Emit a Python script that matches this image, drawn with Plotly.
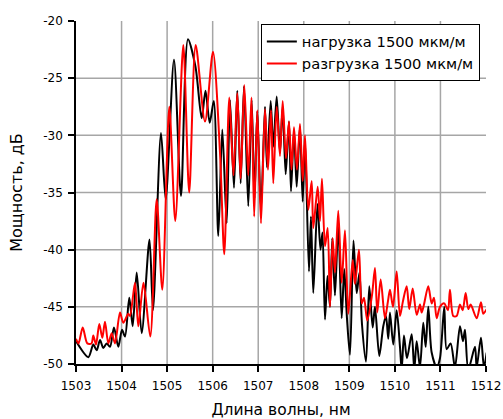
import plotly.graph_objects as go

# pixel-read data converted to wavelength (nm) and power (dB)
def px2nm(p):
    return 1503 + (p - 76) / 45.56

load_px = [76, 88.3, 93.3, 96.7, 100, 103.3, 106.7, 110, 114, 118.3, 122, 125, 129.3, 132.7, 136.7,
           141.7, 149.5, 153, 161, 165.7, 174, 181, 188, 195.5, 201.7, 205.5, 209.7, 213.8, 218.3,
           222.3, 226.7, 230, 234, 237.3, 240.7, 244, 248.3, 251.7, 254.5, 257.3, 261, 265, 267,
           270.7, 273.3, 276.7, 280, 282.7, 285.7, 289, 291, 294, 296.7, 300, 302.7, 305, 309, 311,
           313.3, 317.5, 320.5, 322.5, 325, 327.5, 330, 332.3, 335, 338.3, 341.7, 344.3, 347, 350,
           353.5, 356.7, 359.5, 362, 366, 369.3, 372.7, 375, 379.3, 383.3, 386, 388.3, 390, 393.3,
           396.7, 400, 401.7, 404, 407, 411.7, 414.3, 416.7, 420, 423.3, 425.7, 428.3, 431.7, 436.7,
           440, 444.3, 446.7, 450.7, 455, 460, 463, 465, 468.3, 475, 476.7, 481, 484, 486.7]
load_db = [-48.0, -49.4, -48.3, -48.8, -47.9, -48.6, -48.2, -48.5, -46.8, -48.5, -47.0, -47.6, -44.2, -46.7, -42.0,
           -47.3, -39.1, -45.3, -29.8, -35.6, -23.4, -35.3, -21.6, -24.0, -28.5, -26.1, -28.9, -27.0, -38.8,
           -29.5, -37.7, -26.9, -34.6, -26.1, -34.2, -25.7, -36.2, -26.9, -35.5, -27.9, -36.5, -27.5, -32.8,
           -27.0, -31.0, -26.6, -31.5, -27.5, -33.4, -28.8, -34.9, -29.6, -34.5, -29.2, -35.8, -30.4, -41.9, -37.1,
           -43.8, -36.0, -40.0, -38.5, -46.1, -42.3, -45.0, -39.0, -44.0, -37.8, -46.0, -41.7, -46.0, -49.2,
           -39.2, -43.8, -42.0, -46.5, -49.8, -43.2, -46.8, -45.0, -49.3, -46.7, -45.8, -47.8, -45.5, -48.3,
           -45.3, -48.5, -50.5, -47.5, -49.5, -47.4, -50.5, -48.0, -50.3, -46.4, -48.5, -45.0, -49.0, -50.3,
           -49.5, -45.0, -48.7, -48.2, -50.3, -46.7, -48.0, -47.0, -50.5, -48.5, -50.3, -47.7, -50.3, -49.0]

unload_px = [76, 78.5, 82.7, 87.3, 91.5, 93.3, 96, 99.3, 102.3, 105, 108.3, 111.7, 115, 120, 123.3, 128.3,
             130, 135, 138.3, 143.5, 150.3, 156.7, 162.3, 169.3, 175.3, 183.3, 189.2, 195.7, 205, 213,
             220, 224.3, 229.3, 233.5, 237.3, 240.7, 244.3, 248.3, 251.5, 254.2, 257.3, 261, 265, 268,
             271, 273.3, 276.7, 280, 282.7, 286, 289, 291.5, 294, 297, 300, 302.7, 305, 308.3, 311.7,
             313.3, 317.7, 320, 322, 325, 327.7, 330, 332.7, 335, 338.3, 341.7, 345, 348.3, 352.7, 355,
             359, 361.7, 364, 367.3, 372, 375, 377.3, 380.7, 385, 388, 390, 393, 396.7, 400, 403, 406.7,
             409.3, 412.7, 416.7, 420, 421.7, 424, 428.3, 431.7, 434, 436.7, 440, 444.3, 448, 450, 453.3,
             456.7, 460, 462.7, 465.7, 468.3, 470.7, 476.7, 481, 483.3, 486.7]
unload_db = [-47.8, -48.2, -46.8, -48.2, -48.2, -47.5, -48.3, -46.5, -47.7, -46.3, -48.2, -47.3, -48.2, -45.5, -46.4, -45.6,
             -45.8, -42.9, -46.7, -42.9, -47.6, -35.6, -43.5, -27.5, -37.5, -22.1, -35.0, -22.1, -28.8, -22.7,
             -31.5, -40.4, -26.7, -33.5, -26.3, -33.8, -25.6, -33.5, -26.7, -37.1, -27.8, -37.7, -27.7, -33.0,
             -27.8, -34.2, -27.5, -31.8, -27.0, -32.0, -28.8, -33.0, -29.3, -33.0, -29.0, -34.0, -30.0, -36.5, -34.0,
             -38.1, -34.5, -37.5, -33.8, -39.7, -38.1, -45.0, -39.0, -42.0, -36.6, -42.9, -38.3, -45.6, -40.9, -43.0,
             -40.0, -44.7, -44.2, -46.2, -44.0, -41.6, -45.5, -42.6, -46.0, -44.5, -43.5, -45.0, -41.9, -45.8, -44.5, -43.2,
             -45.2, -43.4, -45.7, -44.8, -45.5, -44.8, -43.2, -44.7, -44.2, -46.0, -45.0, -44.7, -45.3, -43.5, -45.8,
             -45.8, -44.8, -45.3, -43.8, -45.2, -44.8, -46.0, -44.6, -45.6, -45.2]

x_ticks = [1503, 1504, 1505, 1506, 1507, 1508, 1509, 1510, 1511, 1512]
y_ticks = [-50, -45, -40, -35, -30, -25, -20]

names = ["нагрузка 1500 мкм/м", "разгрузка 1500 мкм/м"]

fig = go.Figure()
fig.add_trace(go.Scatter(x=[px2nm(p) for p in load_px], y=load_db, mode="lines", name=names[0],
                         line=dict(color="black", width=2, shape="spline", smoothing=0.8)))
fig.add_trace(go.Scatter(x=[px2nm(p) for p in unload_px], y=unload_db, mode="lines", name=names[1],
                         line=dict(color="#ff0000", width=2, shape="spline", smoothing=0.8)))

grid_col = "#a6a6a6"
shapes = []
for xv in x_ticks[1:-1]:
    shapes.append(dict(type="line", xref="x", yref="paper", x0=xv, x1=xv, y0=0, y1=1,
                       line=dict(color=grid_col, width=1.5), layer="below"))
for yv in y_ticks[1:-1]:
    shapes.append(dict(type="line", xref="paper", yref="y", x0=0, x1=1, y0=yv, y1=yv,
                       line=dict(color=grid_col, width=1.5), layer="below"))

font = "DejaVu Sans"
fig.update_layout(
    width=503, height=419,
    margin=dict(l=76, r=17, t=21, b=55, autoexpand=False),
    plot_bgcolor="white", paper_bgcolor="white",
    font=dict(family=font, size=12, color="black"),
    shapes=shapes,
    showlegend=True,
    legend=dict(x=0.985, y=0.99, xanchor="right", yanchor="top",
                bgcolor="white", bordercolor="black", borderwidth=1,
                font=dict(family=font, size=14.7, color="black"),
                tracegroupgap=0, itemwidth=30),
    xaxis=dict(range=[1503, 1512], tickvals=x_ticks, ticktext=[str(v) for v in x_ticks],
               showgrid=False, zeroline=False, showline=True, linecolor="black", linewidth=1.5,
               ticks="outside", ticklen=6, tickwidth=1.5, tickcolor="black",
               ticklabelstandoff=4, automargin=False,
               tickfont=dict(size=12),
               title=dict(text="Длина волны, нм", font=dict(size=15.5), standoff=12)),
    yaxis=dict(range=[-50, -20], tickvals=y_ticks, ticktext=[str(v) for v in y_ticks],
               showgrid=False, zeroline=False, showline=True, linecolor="black", linewidth=1.5,
               ticks="outside", ticklen=6, tickwidth=1.5, tickcolor="black",
               ticklabelstandoff=3, automargin=False,
               tickfont=dict(size=12),
               title=dict(text="Мощность, дБ", font=dict(size=16), standoff=17)),
)

fig.write_html("out.html")
